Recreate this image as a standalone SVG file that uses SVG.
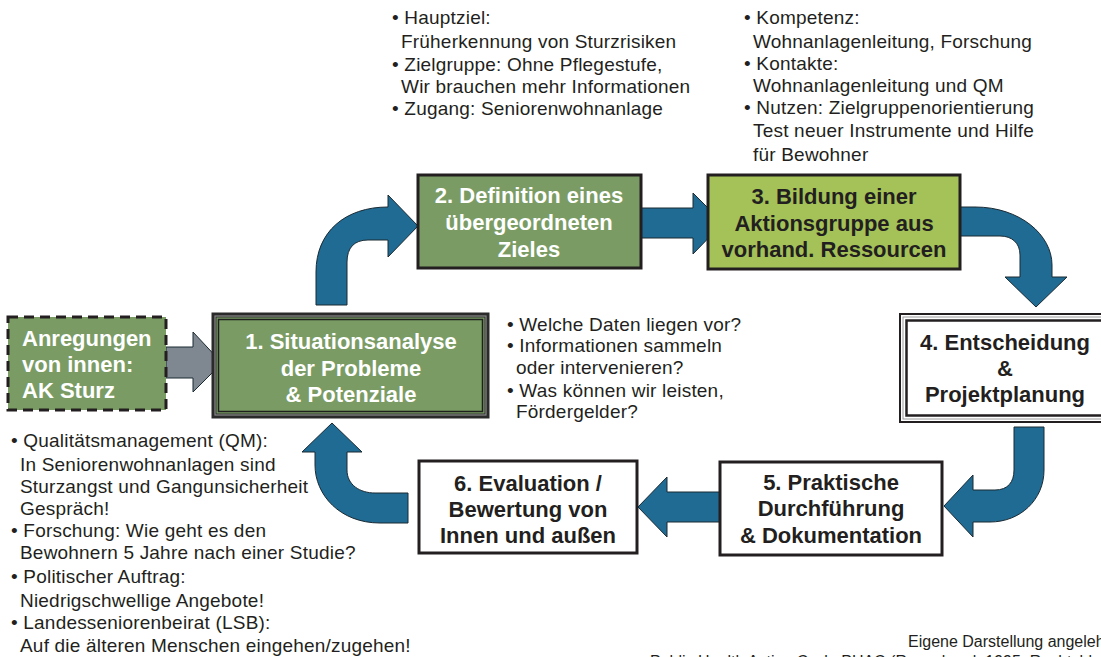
<svg xmlns="http://www.w3.org/2000/svg" width="1101" height="657" viewBox="0 0 1101 657">
<style>
.bt{font-family:"Liberation Sans",Arial,sans-serif;font-weight:bold;font-size:22px;text-anchor:middle}
.w{fill:#ffffff}
.d{fill:#231f20}
.tx{font-family:"Liberation Sans",Arial,sans-serif;font-size:19px;letter-spacing:0.2px;fill:#231f20}
.arr{fill:#1f6b94;stroke:#1a2a33;stroke-width:1}
.green{fill:#7a9c64}
</style>
<rect width="1101" height="657" fill="#ffffff"/>
<g id="connectors">
  <path d="M166,347 L193,347 L193,332 L222,363 L193,392 L193,378 L166,378 Z" fill="#7f8790" stroke="#1a2a33" stroke-width="1"/>
  <path class="arr" d="M316,305 L316,272 C316,232 345,207 388,207 L388,195 L418,226 L388,257 L388,240 L368,240 C354,240 347,248 347,262 L347,305 Z"/>
  <path class="arr" d="M638,208 L693,208 L693,193 L723,223 L693,254 L693,238 L638,238 Z"/>
  <path class="arr" d="M959,207 L975,207 C1020,207 1052,235 1052,265 L1052,277 L1067,277 L1036,307 L1005,277 L1020,277 L1020,255 C1020,243 1012,236 1000,236 L959,236 Z"/>
  <path class="arr" d="M1014,427 L1044,427 L1044,470 C1044,500 1020,522 990,522 L973,522 L973,537 L944,506 L973,475 L973,490 L995,490 C1008,490 1014,482 1014,470 Z"/>
  <path class="arr" d="M722,492 L667,492 L667,477 L638,507 L667,537 L667,522 L722,522 Z"/>
  <path class="arr" d="M408,493 L408,523 L380,523 C340,523 315,495 315,465 L315,452 L302,452 L332,423 L362,452 L347,452 L347,470 C347,485 360,493 375,493 Z"/>
</g>
<g id="node-anregungen">
  <rect x="8" y="317" width="158" height="93" class="green" stroke="#231f20" stroke-width="3" stroke-dasharray="10,6"/>
  <text class="bt w" style="text-anchor:start" x="22" y="346">Anregungen</text>
  <text class="bt w" style="text-anchor:start" x="22" y="372">von innen:</text>
  <text class="bt w" style="text-anchor:start" x="22" y="398">AK Sturz</text>
</g>
<g id="node-1">
  <rect x="214" y="315" width="273" height="101" class="green" stroke="#2a2a2a" stroke-width="5"/>
  <rect x="215" y="316" width="271" height="99" fill="none" stroke="#8a8a8a" stroke-width="1.2"/>
  <rect x="218.5" y="319.5" width="264" height="92" fill="none" stroke="#1f1f1f" stroke-width="1.5"/>
  <text class="bt w" x="351" y="349">1. Situationsanalyse</text>
  <text class="bt w" x="351" y="376">der Probleme</text>
  <text class="bt w" x="351" y="402">&amp; Potenziale</text>
</g>
<g id="node-2">
  <rect x="418" y="175" width="223" height="93" class="green" stroke="#231f20" stroke-width="3"/>
  <text class="bt w" x="529" y="203">2. Definition eines</text>
  <text class="bt w" x="529" y="230">übergeordneten</text>
  <text class="bt w" x="529" y="257">Zieles</text>
</g>
<g id="node-3">
  <rect x="708" y="175" width="252" height="94" fill="#a4c257" stroke="#231f20" stroke-width="3"/>
  <text class="bt d" x="834" y="204">3. Bildung einer</text>
  <text class="bt d" x="834" y="231">Aktionsgruppe aus</text>
  <text class="bt d" x="834" y="257">vorhand. Ressourcen</text>
</g>
<g id="node-4">
  <rect x="900" y="314" width="215" height="108" fill="#ffffff" stroke="#231f20" stroke-width="2"/>
  <rect x="903" y="317" width="209" height="102" fill="none" stroke="#9a9a9a" stroke-width="1"/>
  <rect x="906.5" y="320.5" width="202" height="95" fill="none" stroke="#231f20" stroke-width="2.5"/>
  <text class="bt d" x="1005" y="350">4. Entscheidung</text>
  <text class="bt d" x="1005" y="376">&amp;</text>
  <text class="bt d" x="1005" y="402">Projektplanung</text>
</g>
<g id="node-5">
  <rect x="720" y="462" width="222" height="93" fill="#ffffff" stroke="#231f20" stroke-width="3"/>
  <text class="bt d" x="831" y="490">5. Praktische</text>
  <text class="bt d" x="831" y="516">Durchführung</text>
  <text class="bt d" x="831" y="543">&amp; Dokumentation</text>
</g>
<g id="node-6">
  <rect x="419" y="461" width="218" height="92" fill="#ffffff" stroke="#231f20" stroke-width="3"/>
  <text class="bt d" x="528" y="491">6. Evaluation /</text>
  <text class="bt d" x="528" y="517">Bewertung von</text>
  <text class="bt d" x="528" y="543">Innen und außen</text>
</g>
<g id="notes-top-middle" class="tx">
  <text x="392" y="24">• Hauptziel:</text>
  <text x="401" y="48">Früherkennung von Sturzrisiken</text>
  <text x="392" y="71">• Zielgruppe: Ohne Pflegestufe,</text>
  <text x="401" y="93">Wir brauchen mehr Informationen</text>
  <text x="392" y="115">• Zugang: Seniorenwohnanlage</text>
</g>
<g id="notes-top-right" class="tx">
  <text x="744" y="24">• Kompetenz:</text>
  <text x="753" y="48">Wohnanlagenleitung, Forschung</text>
  <text x="744" y="70">• Kontakte:</text>
  <text x="753" y="92">Wohnanlagenleitung und QM</text>
  <text x="744" y="114">• Nutzen: Zielgruppenorientierung</text>
  <text x="753" y="137">Test neuer Instrumente und Hilfe</text>
  <text x="753" y="161">für Bewohner</text>
</g>
<g id="notes-middle" class="tx">
  <text x="507" y="331">• Welche Daten liegen vor?</text>
  <text x="507" y="352">• Informationen sammeln</text>
  <text x="516" y="374">oder  intervenieren?</text>
  <text x="507" y="397">• Was können wir leisten,</text>
  <text x="516" y="418">Fördergelder?</text>
</g>
<g id="notes-bottom-left" class="tx">
  <text x="11" y="447">• Qualitätsmanagement (QM):</text>
  <text x="20" y="471">In Seniorenwohnanlagen sind</text>
  <text x="20" y="493">Sturzangst und Gangunsicherheit</text>
  <text x="20" y="515">Gespräch!</text>
  <text x="11" y="537">• Forschung: Wie geht es den</text>
  <text x="20" y="559">Bewohnern 5 Jahre nach einer Studie?</text>
  <text x="11" y="583">• Politischer Auftrag:</text>
  <text x="20" y="607">Niedrigschwellige Angebote!</text>
  <text x="11" y="629">• Landesseniorenbeirat (LSB):</text>
  <text x="20" y="652">Auf die älteren Menschen eingehen/zugehen!</text>
</g>
<g id="source" style="font-family:'Liberation Sans',Arial,sans-serif;font-size:16px;fill:#231f20">
  <text x="908" y="647">Eigene Darstellung angelehnt an</text>
  <text x="650" y="667">Public Health Action Cycle PHAC (Rosenbrock 1995; Rechtsblatt)</text>
</g>
</svg>
